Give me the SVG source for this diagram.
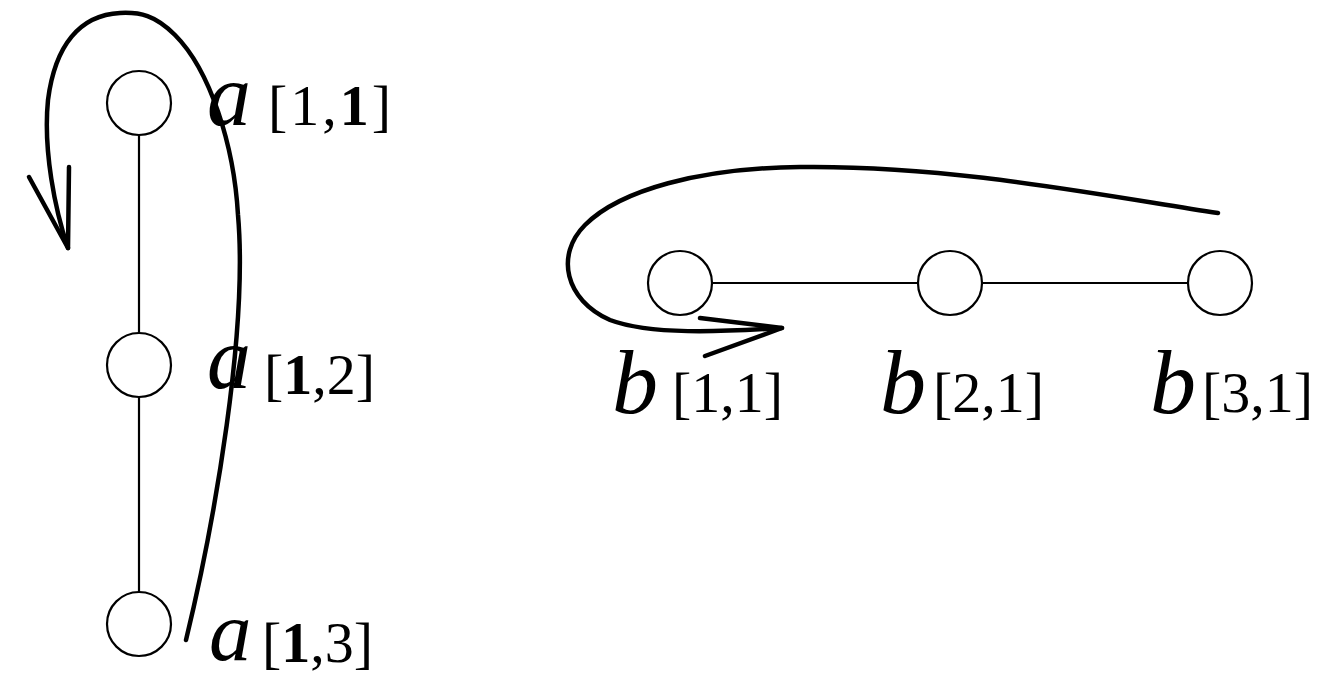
<svg xmlns="http://www.w3.org/2000/svg" width="1323" height="679" viewBox="0 0 1323 679">
<style>
.node{fill:#fff;stroke:#000;stroke-width:2.2}
.edge{stroke:#000;stroke-width:2.2;fill:none}
.curve{stroke:#000;stroke-width:4.5;fill:none;stroke-linecap:round;stroke-linejoin:round}
.v{font-family:"Liberation Serif","Times New Roman",serif;font-style:italic;font-size:88px}
.vb{font-family:"Liberation Serif","Times New Roman",serif;font-style:italic;font-size:92px}
.idx{font-family:"Liberation Serif","Times New Roman",serif;font-size:58px}
.bd{font-weight:bold}
</style>
<rect width="1323" height="679" fill="#fff"/>
<g id="connectors">
<line class="edge" x1="139" y1="135" x2="139" y2="333"/>
<line class="edge" x1="139" y1="397" x2="139" y2="592"/>
<line class="edge" x1="712" y1="283" x2="918" y2="283"/>
<line class="edge" x1="982" y1="283" x2="1188" y2="283"/>
<path class="curve" d="M186,640 C215,520 248,330 238,215 C234,145 210,70 175,35 C155,15 140,12 120,13 C80,15 55,45 48,100 C43,150 55,210 68,248"/>
<path class="curve" d="M29,177 L68,248 L69,167"/>
<path class="curve" d="M1218,213 C1100,195 950,165 800,167 C700,168 620,190 585,225 C555,255 565,300 610,320 C650,335 720,332 782,328"/>
<path class="curve" d="M700,318 L782,328 L705,356"/>
</g>
<g id="a11">
<circle class="node" cx="139" cy="103" r="32"/>
<text class="v" x="207" y="125">a</text>
<text class="idx" x="268" y="125" letter-spacing="3">[1,<tspan class="bd">1</tspan>]</text>
</g>
<g id="a12">
<circle class="node" cx="139" cy="365" r="32"/>
<text class="v" x="207" y="388">a</text>
<text class="idx" x="264" y="394">[<tspan class="bd">1</tspan>,2]</text>
</g>
<g id="a13">
<circle class="node" cx="139" cy="624" r="32"/>
<text class="v" x="209" y="660" style="font-size:85px">a</text>
<text class="idx" x="262" y="662">[<tspan class="bd">1</tspan>,3]</text>
</g>
<g id="b11">
<circle class="node" cx="680" cy="283" r="32"/>
<text class="vb" x="612" y="413">b</text>
<text class="idx" x="672" y="412">[1,1]</text>
</g>
<g id="b21">
<circle class="node" cx="950" cy="283" r="32"/>
<text class="vb" x="880" y="413">b</text>
<text class="idx" x="933" y="412">[2,1]</text>
</g>
<g id="b31">
<circle class="node" cx="1220" cy="283" r="32"/>
<text class="vb" x="1150" y="413">b</text>
<text class="idx" x="1202" y="412">[3,1]</text>
</g>
</svg>
